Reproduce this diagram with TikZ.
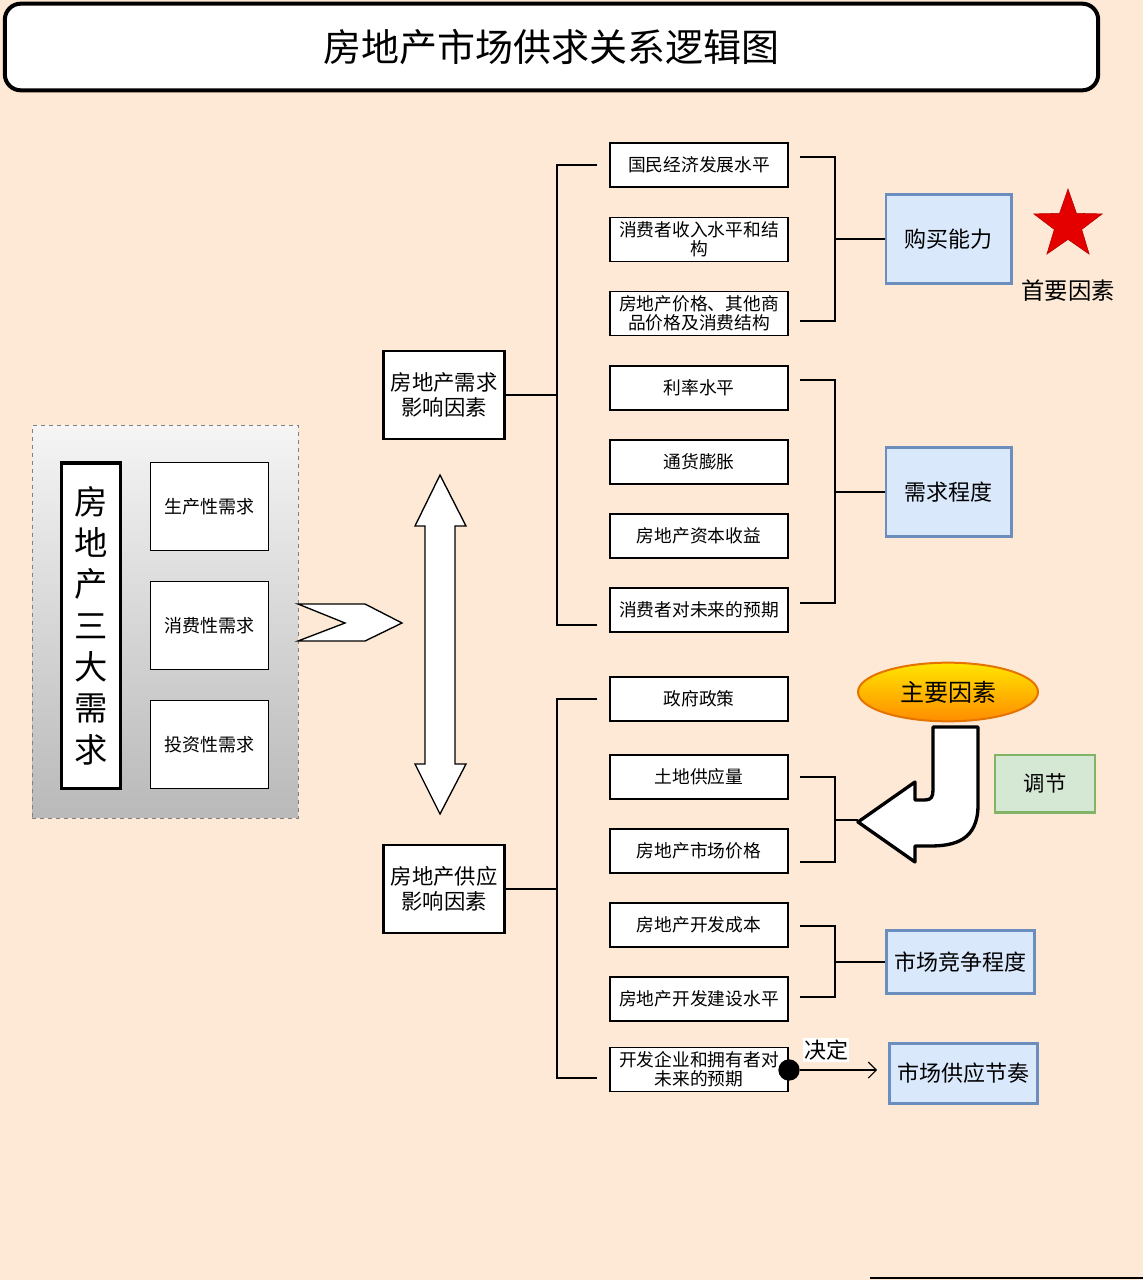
\documentclass[tikz,border=0pt]{standalone}
\usepackage{fontspec}
\setmainfont{Noto Sans CJK SC}
\usetikzlibrary{shapes.geometric,arrows.meta}
\definecolor{bg}{HTML}{FDE9D5}
\definecolor{bfill}{HTML}{DAE8FC}
\definecolor{bline}{HTML}{6C8EBF}
\definecolor{gfill}{HTML}{D5E8D4}
\definecolor{gline}{HTML}{82B366}
\begin{document}
\begin{tikzpicture}[x=0.75pt,y=-0.75pt,
  item/.style={draw=black,fill=white,line width=1.2pt,minimum width=133.5pt,minimum height=33pt,inner sep=1pt,align=center,font=\fontsize{13.3}{14.2}\selectfont},
  need/.style={draw=black,fill=white,line width=0.8pt,minimum width=89pt,minimum height=66.5pt,font=\fontsize{13.5}{15}\selectfont},
  cat/.style={draw=black,fill=white,line width=2.2pt,minimum width=91pt,minimum height=66pt,align=center,font=\fontsize{16}{19}\selectfont},
  res/.style={draw=bline,fill=bfill,line width=2pt,font=\fontsize{16.5}{18}\selectfont},
  br/.style={line width=2pt}]
\fill[bg] (0,0) rectangle (1143,1280);
\useasboundingbox (0,0) rectangle (1143,1280);
\node[draw=black,fill=white,line width=3pt,rounded corners=12pt,minimum width=820pt,minimum height=65pt,font=\fontsize{28.5}{30}\selectfont] (title) at (551.5,47) {房地产市场供求关系逻辑图};
% left panel
\node[draw=gray,dashed,top color=gray!8,bottom color=gray!55,minimum width=199.5pt,minimum height=294.5pt] (panel) at (165,621.5) {};
\node[draw=black,fill=white,line width=2.5pt,minimum width=44pt,minimum height=244pt,align=center,inner sep=0pt,font=\fontsize{25}{31}\selectfont] (three) at (91,625.5) {房\\地\\产\\三\\大\\需\\求};
\node[need] (n1) at (209.5,506.5) {生产性需求};
\node[need] (n2) at (209.5,625.5) {消费性需求};
\node[need] (n3) at (209.5,744.5) {投资性需求};
\draw[fill=white,line width=1pt] (298,604) -- (365,604) -- (402,623) -- (365,641) -- (298,641) -- (345,623) -- cycle;
% double arrow
\draw[fill=white,line width=1pt] (440,475) -- (466,526) -- (455,526) -- (455,764) -- (466,764) -- (440,814) -- (415,764) -- (425,764) -- (425,526) -- (415,526) -- cycle;
% categories
\node[cat] (dem) at (444,395) {房地产需求\\影响因素};
\node[cat] (sup) at (444,889) {房地产供应\\影响因素};
% demand items
\node[item] (d1) at (699,165) {国民经济发展水平};
\node[item] (d2) at (699,239.5) {消费者收入水平和结\\构};
\node[item] (d3) at (699,313.5) {房地产价格、其他商\\品价格及消费结构};
\node[item] (d4) at (699,388) {利率水平};
\node[item] (d5) at (699,462) {通货膨胀};
\node[item] (d6) at (699,536) {房地产资本收益};
\node[item] (d7) at (699,610) {消费者对未来的预期};
% supply items
\node[item] (s1) at (699,699) {政府政策};
\node[item] (s2) at (699,777) {土地供应量};
\node[item] (s3) at (699,851) {房地产市场价格};
\node[item] (s4) at (699,925) {房地产开发成本};
\node[item] (s5) at (699,999) {房地产开发建设水平};
\node[item] (s6) at (699,1069.5) {开发企业和拥有者对\\未来的预期};
% left brackets
\draw[br] (dem.east) -- (557,395);
\draw[br] (597,165) -- (557,165) -- (557,625) -- (597,625);
\draw[br] (sup.east) -- (557,889);
\draw[br] (597,699) -- (557,699) -- (557,1078) -- (597,1078);
% results
\node[res,minimum width=94pt,minimum height=66.5pt] (r1) at (948.5,239) {购买能力};
\node[res,minimum width=94pt,minimum height=66.5pt] (r2) at (948.5,492) {需求程度};
\node[res,minimum width=111pt,minimum height=47pt] (r3) at (960.5,962) {市场竞争程度};
\node[res,minimum width=111pt,minimum height=45pt] (r4) at (963.5,1073.5) {市场供应节奏};
% right brackets
\draw[br] (800,157) -- (835,157) -- (835,321) -- (800,321);
\draw[br] (835,239) -- (r1.west);
\draw[br] (800,380) -- (835,380) -- (835,603) -- (800,603);
\draw[br] (835,492) -- (r2.west);
\draw[br] (800,777) -- (835,777) -- (835,862) -- (800,862);
\draw[br] (835,820) -- (858,820);
\draw[br] (800,926) -- (835,926) -- (835,997) -- (800,997);
\draw[br] (835,962) -- (r3.west);
% star
\node[star,star points=5,star point ratio=2.5,fill=red!90!black,draw=red!70!black,minimum size=54pt,inner sep=0pt] (star) at (1068,225) {};
\node[font=\fontsize{17.5}{19}\selectfont] (first) at (1068,291) {首要因素};
% main factor
\node[ellipse,draw=orange!90!black,line width=1.5pt,top color=yellow!80!orange,bottom color=orange!90!yellow,minimum width=135pt,minimum height=44pt,font=\fontsize{18}{19}\selectfont] (main) at (948,692) {主要因素};
\draw[fill=white,line width=2.5pt,line join=round] (933,727) -- (978,727) -- (978,805) .. controls (978,840) and (955,846) .. (930,846) -- (915,846) -- (915,862) -- (858,822) -- (915,782) -- (915,800) -- (925,800) .. controls (931,800) and (933,797) .. (933,790) -- cycle;
\node[draw=gline,fill=gfill,line width=2pt,minimum width=75pt,minimum height=43pt,font=\fontsize{16}{18}\selectfont] (adj) at (1045,783.5) {调节};
% decide
\node[circle,fill=black,minimum size=16pt,inner sep=0pt] (dot) at (789,1070) {};
\coordinate (tip) at (877,1070);
\draw[-{Straight Barb[length=6pt]},line width=0.8pt] (dot) -- (tip);
\node[fill=white,inner sep=1pt,font=\fontsize{16.5}{18}\selectfont] (dec) at (826,1050) {决定};
\draw[line width=1pt] (870,1278) -- (1143,1278);
\end{tikzpicture}
\end{document}
